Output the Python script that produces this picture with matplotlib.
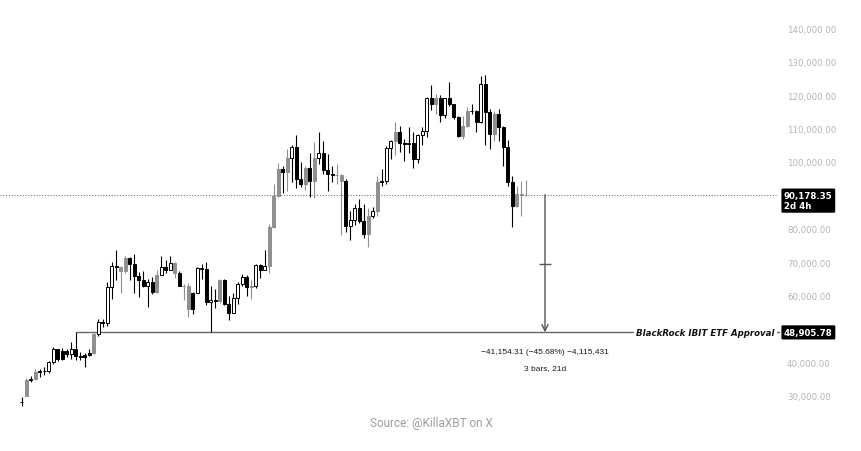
import matplotlib
matplotlib.use("Agg")
import matplotlib.pyplot as plt
import matplotlib.transforms as mtransforms
import numpy as np

# Weekly BTC candles, Oct 2023 -> Dec 2025
opens = [28100, 29900, 34500, 35000, 37100, 37400, 37200, 39900, 43800, 41000,
         43400, 42300, 43900, 41700, 41600, 42000, 42600, 48300, 52100, 51700,
         62400, 68900, 68400, 67200, 71300, 69400, 65700, 64600, 62900, 64000,
         61100, 66100, 68400, 67700, 69600, 66800, 62900, 62700, 55800, 60800,
         68200, 68000, 58100, 58700, 58400, 64500, 57300, 54800, 59100, 63400,
         65500, 62500, 62900, 69000, 67700, 68700, 80400, 89900, 97800, 97000,
         101100, 104400, 95000, 93400, 98300, 94400, 101300, 102600, 97600, 96300,
         96000, 96100, 94300, 80700, 82600, 86100, 82400, 78400, 83800, 85200,
         94000, 94300, 104100, 106400, 109000, 105600, 105500, 105600, 100900, 108200,
         109200, 119100, 117300, 119300, 114100, 119050, 117350, 113350, 107850, 110850,
         115350, 115150, 112050, 123350, 114850, 108350, 114350, 110350, 104350, 94050,
         86650, 90300, 90050]
highs = [29500, 35200, 35900, 37900, 37900, 38400, 40200, 44600, 43900, 44300,
         43800, 45900, 48906, 43000, 42800, 43800, 48600, 52800, 52900, 63900,
         70000, 73700, 68900, 71700, 71400, 72400, 66900, 67300, 64800, 65500,
         67500, 71900, 70600, 71900, 70000, 67200, 63400, 63800, 61000, 68400,
         69300, 70000, 62700, 61800, 65000, 64900, 59800, 60600, 64100, 66400,
         66000, 64500, 69500, 69500, 73500, 81500, 93400, 99600, 98900, 103900,
         105100, 108100, 99900, 98900, 102600, 106000, 109000, 106400, 102500, 98800,
         99400, 96500, 95000, 85300, 87500, 88800, 87500, 86100, 86400, 95800,
         97900, 104900, 106700, 111900, 110700, 106800, 110400, 108900, 108500, 110500,
         119500, 123100, 120300, 120050, 119300, 124050, 117500, 113650, 113850, 116350,
         117350, 115500, 125850, 126050, 115850, 115350, 115850, 110700, 106500, 95850,
         92850, 94300, 94600]
lows = [26800, 29700, 34100, 34600, 35500, 36000, 36700, 39300, 40300, 40500,
        41500, 40800, 40500, 40600, 38500, 41800, 42300, 47700, 50600, 50900,
        59000, 64600, 60800, 66600, 64500, 60800, 59400, 62400, 56400, 60300,
        60800, 66100, 66600, 67600, 65200, 62800, 58500, 53500, 54300, 60600,
        65000, 57100, 49000, 56200, 57800, 57200, 52600, 54600, 57500, 62700,
        59800, 58900, 62100, 65100, 67500, 66800, 80200, 89500, 90800, 91400,
        94000, 92100, 92400, 91600, 89400, 89300, 99500, 96400, 91200, 94100,
        93500, 78200, 78900, 76600, 81200, 81600, 77100, 74500, 83100, 83900,
        92900, 93400, 100800, 102100, 103100, 100400, 102700, 98300, 99600, 105100,
        107500, 115700, 114400, 112050, 113050, 116850, 112850, 107350, 106850, 110350,
        114350, 108850, 111800, 105050, 103850, 106350, 106350, 98850, 92850, 80350,
        86350, 83850, 89850]
closes = [28000, 34500, 35000, 37100, 37400, 37200, 39900, 43800, 41000, 43400,
          42300, 43900, 41700, 41600, 42000, 42600, 48300, 52100, 51700, 62400,
          68900, 68400, 67200, 71300, 69400, 65700, 64600, 62900, 64000, 61100,
          66100, 68400, 67700, 69600, 66800, 62900, 62700, 55800, 60800, 68200,
          68000, 58100, 58700, 58400, 64500, 57300, 54800, 59100, 63400, 65500,
          62500, 62900, 69000, 67700, 68700, 80400, 89900, 97800, 97000, 101100,
          104400, 95000, 93400, 98300, 94400, 101300, 102600, 97600, 96300, 96000,
          96100, 94300, 80700, 82600, 86100, 82400, 78400, 83800, 85200, 94000,
          94300, 104100, 106400, 109000, 105600, 105500, 105600, 100900, 108200, 109200,
          119100, 117300, 119300, 114100, 119050, 117350, 113350, 107850, 110850, 115350,
          115150, 112050, 123350, 114850, 108350, 114350, 110350, 104350, 94050, 86650,
          90300, 90050, 90178.35]
# w = hollow, k = black, g = grey
styles = list("kgwgkkwwkk" "kwkkkkgwkw" "wkggkkkkwk" "gwkwgkggkw" "kkwkgkkwww"
              "kgwkwgggkg" "wkkgkgwkkw" "ggkwwkkgwg" "wwwgkkkkww" "wkgkwkkkgg"
              "kkwkkgkkkk" "ggg")

last_price = 90178.35
etf_level = 48905.78
etf_label = "BlackRock IBIT ETF Approval"
etf_week = 12
measure_text = "\u221241,154.31 (\u221245.68%) \u22124,115,431"
measure_bars = "3 bars, 21d"
tag_top = ["90,178.35", "2d 4h"]
tag_bottom = "48,905.78"
# 90,000 sits under the price tag in the reference, so it is not drawn
yticks = [30000, 40000, 50000, 60000, 70000, 80000, 100000, 110000, 120000, 130000, 140000]

W, H = 862, 452
fig = plt.figure(figsize=(W / 100, H / 100), dpi=100)
ax = fig.add_axes([0, 0, 780 / W, 1])

# pixel helpers (candle spacing 4.5px, first candle at x=21.7px)
step, x0 = 4.5, 21.7
px2i = lambda px: (px - x0) / step
py2p = lambda py: 140000 - (py - 29.5) * 299.76

x = np.arange(len(opens))
o = np.array(opens, float)
c = np.array(closes, float)
face = {"w": "white", "k": "black", "g": "#8f8f8f"}
edge = {"w": "black", "k": "black", "g": "#8f8f8f"}
ax.vlines(x, lows, highs, colors=[edge[s] for s in styles], lw=0.8, zorder=2)
ax.bar(x, c - o, bottom=o, width=0.66, color=[face[s] for s in styles],
       edgecolor=[edge[s] for s in styles], linewidth=0.7, zorder=3)

ax.set_xlim(px2i(0), px2i(780))
ax.set_ylim(py2p(H), py2p(0))

# current price dotted line
ax.hlines(last_price, px2i(0), px2i(777), colors="#777777", lw=0.8,
          linestyles=(0, (1, 1.5)), zorder=1)

# ETF approval horizontal line + label
ax.hlines(etf_level, etf_week, px2i(780), colors="#666666", lw=1, zorder=1)
ax.text(px2i(636), etf_level, etf_label, fontsize=6.2, fontweight="bold",
        fontstyle="italic", va="center", ha="left", color="#111111",
        bbox=dict(boxstyle="square,pad=0.25", fc="white", ec="none"), zorder=4)

# measurement arrow
mx = px2i(545)
ax.annotate("", xy=(mx, etf_level), xytext=(mx, last_price),
            arrowprops=dict(arrowstyle="->,head_length=0.45,head_width=0.22",
                            color="#555555", lw=1, shrinkA=0, shrinkB=0), zorder=4)
ax.hlines((last_price + etf_level) / 2, mx - 1.35, mx + 1.35, colors="#555555", lw=1)
ax.annotate(measure_text, xy=(mx, etf_level), xytext=(0, -13.4),
            textcoords="offset points", ha="center", va="center",
            fontsize=6.0, family="Liberation Sans", color="#1a1a1a")
ax.annotate(measure_bars, xy=(mx, etf_level), xytext=(0, -25.6),
            textcoords="offset points", ha="center", va="center",
            fontsize=6.0, family="Liberation Sans", color="#1a1a1a")

# right price axis
ax.yaxis.tick_right()
ax.set_yticks(yticks)
ax.set_yticklabels([f"{v:,.2f}" for v in yticks])
ax.tick_params(axis="y", length=0, pad=5, labelsize=6.2, labelcolor="#b4b4b4")
ax.set_xticks([])
for s in ax.spines.values():
    s.set_visible(False)

# price tags
blend = mtransforms.blended_transform_factory(fig.transFigure, ax.transData)
ax.annotate("\n".join(tag_top), xy=(784 / W, last_price), xycoords=blend,
            xytext=(0, 2.6), textcoords="offset points", ha="left", va="top",
            fontsize=6.2, fontweight="bold", color="white", linespacing=1.15,
            annotation_clip=False, zorder=6,
            bbox=dict(boxstyle="round,pad=0.3,rounding_size=0.15", fc="black", ec="none"))
ax.annotate(tag_bottom, xy=(784 / W, etf_level), xycoords=blend,
            ha="left", va="center", fontsize=6.2, fontweight="bold", color="white",
            annotation_clip=False, zorder=6,
            bbox=dict(boxstyle="round,pad=0.3,rounding_size=0.15", fc="black", ec="none"))

fig.text(0.5, 1 - 423.3 / H, "Source: @KillaXBT on X", ha="center", va="center",
         fontsize=8.5, family="Roboto", color="#9e9e9e")

fig.savefig("out.png", dpi=100)
